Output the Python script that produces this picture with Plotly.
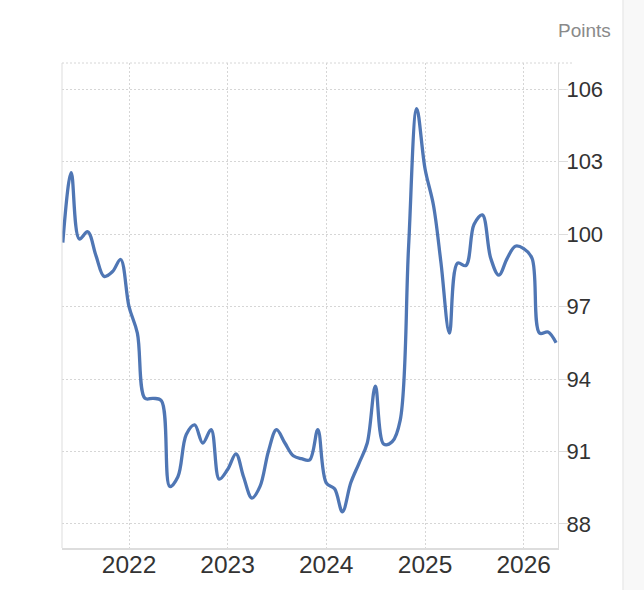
import plotly.graph_objects as go
import pandas as pd

dates = pd.date_range("2021-05-01", "2026-05-01", freq="MS")
values = [
    99.65, 102.55, 99.8, 100.1, 99.1, 98.25, 98.45, 98.95,          # 2021 May-Dec
    97.0, 95.9, 93.2, 93.2, 93.1, 89.55, 89.95, 91.7, 92.1, 91.35, 91.9, 89.85,  # 2022
    90.25, 90.9, 89.95, 89.07, 89.55, 91.0, 91.9, 91.35, 90.82, 90.7, 90.65, 91.9,  # 2023
    89.7, 89.45, 88.5, 89.7, 90.5, 91.35, 93.7, 91.3, 91.4, 92.3, 99.5, 105.2,  # 2024
    102.7, 101.2, 98.8, 95.9, 98.8, 98.7, 100.4, 100.8, 99.0, 98.3, 99.0, 99.5,  # 2025
    99.4, 99.0, 95.9, 95.95, 95.5,                                    # 2026 Jan-May
]
y_ticks = [88, 91, 94, 97, 100, 103, 106]
x_ticks = ["2022-01-01", "2023-01-01", "2024-01-01", "2025-01-01", "2026-01-01"]
x_labels = ["2022", "2023", "2024", "2025", "2026"]
unit_label = "Points"

fig = go.Figure()
fig.add_trace(go.Scatter(
    x=dates, y=values, mode="lines",
    line=dict(color="#4f76b4", width=3.3, shape="spline", smoothing=1.0),
    hoverinfo="skip",
))

fig.update_layout(
    width=644, height=590,
    margin=dict(l=62, r=86, t=63, b=42, autoexpand=False),
    paper_bgcolor="white", plot_bgcolor="white",
    showlegend=False,
    font=dict(family="Liberation Sans, Arial, sans-serif", color="#333333"),
    xaxis=dict(
        type="date",
        range=["2021-04-28", "2026-05-08"],
        tickvals=x_ticks, ticktext=x_labels,
        showgrid=True, gridcolor="#d6d6d6", griddash="2px,2px", gridwidth=1,
        showline=True, linecolor="#dddddd", linewidth=2,
        ticks="outside", ticklen=4, tickcolor="rgba(0,0,0,0)",
        ticklabelstandoff=-10,
        tickfont=dict(size=24.5, color="#333333"),
        zeroline=False, automargin=False,
    ),
    yaxis=dict(
        side="right",
        range=[87.0, 107.09],
        tickvals=y_ticks,
        showgrid=True, gridcolor="#d6d6d6", griddash="2px,2px", gridwidth=1,
        showline=True, linecolor="#dddddd", linewidth=1,
        ticks="outside", ticklen=9, tickcolor="#dddddd",
        ticklabelstandoff=-6,
        tickfont=dict(size=22, color="#333333"),
        zeroline=False, automargin=False,
    ),
)

# left border line and top dotted border
fig.add_shape(type="line", xref="paper", yref="paper", x0=0, x1=0, y0=0, y1=1,
              line=dict(color="#dddddd", width=1))
fig.add_shape(type="line", xref="paper", yref="paper", x0=0, x1=1.03, y0=1, y1=1,
              line=dict(color="#d6d6d6", width=1, dash="2px,2px"))
# right side panel
fig.add_shape(type="rect", xref="paper", yref="paper", x0=1.131, x1=1.18, y0=-0.2, y1=1.2,
              fillcolor="#f8f8f8", line=dict(color="#e3e3e3", width=1), layer="below")

fig.add_annotation(text=unit_label, xref="paper", yref="paper", x=1.111, y=1.0 + (63 - 30) / 485,
                   xanchor="right", yanchor="middle", showarrow=False,
                   font=dict(size=19, color="#8a8a8a"))

fig.write_html("out.html")
